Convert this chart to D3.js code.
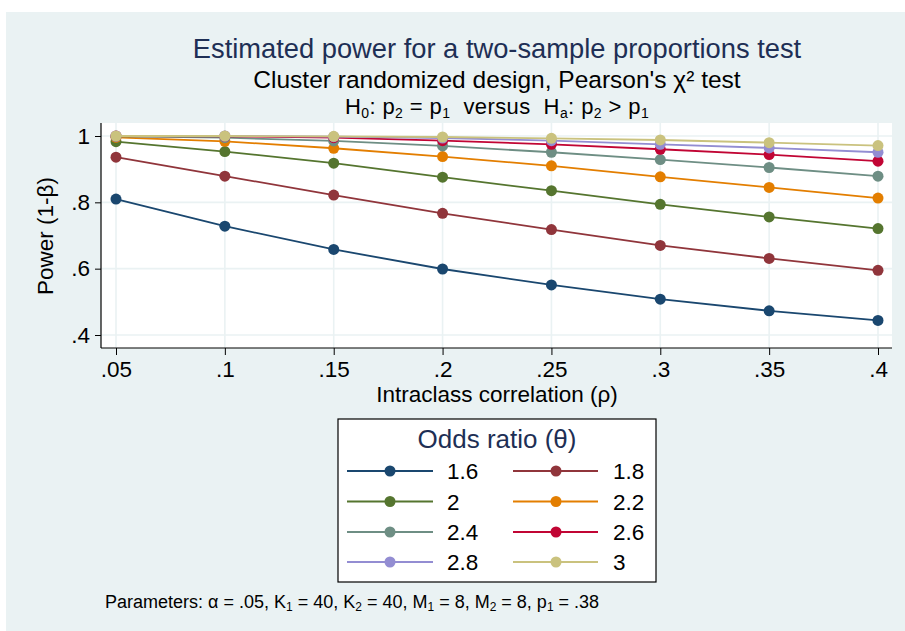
<!DOCTYPE html>
<html>
<head>
<meta charset="utf-8">
<script src="https://cdn.jsdelivr.net/npm/d3@7"></script>
<style>
  html, body { margin: 0; padding: 0; background: #ffffff; }
  svg { display: block; font-family: Arial, "Liberation Sans", Helvetica, sans-serif; }
</style>
</head>
<body>
<svg id="chart" width="905" height="631"></svg>
<script>
// ---------------- data ----------------
const rho = [0.05, 0.10, 0.15, 0.20, 0.25, 0.30, 0.35, 0.40];
const xTickLabels = [".05", ".1", ".15", ".2", ".25", ".3", ".35", ".4"];
const yTicks = [0.4, 0.6, 0.8, 1.0];
const yTickLabels = [".4", ".6", ".8", "1"];
const oddsRatios = ["1.6", "1.8", "2", "2.2", "2.4", "2.6", "2.8", "3"];
const power16 = [0.810, 0.728, 0.658, 0.599, 0.551, 0.508, 0.473, 0.444];
const power18 = [0.936, 0.879, 0.822, 0.767, 0.718, 0.670, 0.631, 0.595];
const power20 = [0.983, 0.953, 0.918, 0.876, 0.835, 0.794, 0.756, 0.721];
const power22 = [0.996, 0.984, 0.963, 0.938, 0.910, 0.877, 0.845, 0.813];
const power24 = [0.999, 0.995, 0.985, 0.970, 0.951, 0.929, 0.905, 0.879];
const power26 = [1.000, 0.999, 0.995, 0.986, 0.975, 0.960, 0.944, 0.924];
const power28 = [1.000, 1.000, 0.998, 0.994, 0.986, 0.975, 0.964, 0.951];
const power30 = [1.000, 1.000, 0.999, 0.997, 0.993, 0.988, 0.980, 0.971];
const seriesColors = ["#1a476f", "#90353b", "#55752f", "#e37e00", "#6e8e84", "#c10534", "#938dd2", "#cac27e"];

const allPower = [power16, power18, power20, power22, power24, power26, power28, power30];
const series = oddsRatios.map((or, i) => ({
  name: or,
  color: seriesColors[i],
  values: rho.map((r, j) => ({ x: r, y: allPower[i][j] }))
}));

// ---------------- layout ----------------
const svg = d3.select("#chart");
const bgColor = "#eaf2f3";
const titleColor = "#1e2f55";

svg.append("rect").attr("x", 6).attr("y", 12).attr("width", 899).attr("height", 619).attr("fill", bgColor);

const plot = { left: 101, right: 892, top: 123, bottom: 348 };
const x = d3.scaleLinear().domain([0.05, 0.40]).range([116, 878]);
const y = d3.scaleLinear().domain([0.4, 1.0]).range([335, 136]);

// plot region
svg.append("rect")
  .attr("x", plot.left).attr("y", plot.top)
  .attr("width", plot.right - plot.left).attr("height", plot.bottom - plot.top)
  .attr("fill", "#ffffff");

// grid lines
const grid = svg.append("g");
grid.selectAll("line.h").data(yTicks).join("line")
  .attr("x1", plot.left).attr("x2", plot.right)
  .attr("y1", d => y(d)).attr("y2", d => y(d))
  .attr("stroke", bgColor).attr("stroke-width", 1.6);
grid.selectAll("line.v").data(rho).join("line")
  .attr("y1", plot.top).attr("y2", plot.bottom)
  .attr("x1", d => x(d)).attr("x2", d => x(d))
  .attr("stroke", bgColor).attr("stroke-width", 1.6);

// axes
const fontTick = 22.5;
const yAxis = d3.axisLeft(y).tickValues(yTicks).tickFormat((d, i) => yTickLabels[i]).tickSize(6).tickPadding(5);
const gy = svg.append("g").attr("transform", `translate(${plot.left},0)`).call(yAxis);
gy.select(".domain").remove();
gy.selectAll("text").attr("font-size", fontTick).attr("fill", "#000").attr("font-family", null);
gy.selectAll("line").attr("stroke", "#000");
svg.append("line").attr("x1", plot.left).attr("x2", plot.left).attr("y1", plot.top).attr("y2", plot.bottom).attr("stroke", "#000").attr("stroke-width", 1.2);

const xAxis = d3.axisBottom(x).tickValues(rho).tickFormat((d, i) => xTickLabels[i]).tickSize(7).tickPadding(6);
const gx = svg.append("g").attr("transform", `translate(0,${plot.bottom})`).call(xAxis);
gx.select(".domain").remove();
gx.selectAll("text").attr("font-size", fontTick).attr("fill", "#000").attr("font-family", null);
gx.selectAll("line").attr("stroke", "#000");
svg.append("line").attr("x1", plot.left).attr("x2", plot.right).attr("y1", plot.bottom).attr("y2", plot.bottom).attr("stroke", "#000").attr("stroke-width", 1.2);

// axis titles
svg.append("text")
  .attr("transform", "translate(53,236) rotate(-90)")
  .attr("text-anchor", "middle").attr("font-size", 22.5).attr("fill", "#000")
  .text("Power (1-β)");
svg.append("text")
  .attr("x", 497).attr("y", 402)
  .attr("text-anchor", "middle").attr("font-size", 22.5).attr("fill", "#000")
  .text("Intraclass correlation (ρ)");

// series
const line = d3.line().x(d => x(d.x)).y(d => y(d.y));
const gs = svg.append("g");
series.forEach(s => {
  gs.append("path").datum(s.values)
    .attr("d", line).attr("fill", "none")
    .attr("stroke", s.color).attr("stroke-width", 1.8);
  gs.selectAll(null).data(s.values).join("circle")
    .attr("cx", d => x(d.x)).attr("cy", d => y(d.y)).attr("r", 5.5)
    .attr("fill", s.color);
});

// titles
svg.append("text").attr("x", 497).attr("y", 58).attr("text-anchor", "middle")
  .attr("font-size", 27.3).attr("fill", titleColor)
  .text("Estimated power for a two-sample proportions test");
svg.append("text").attr("x", 497).attr("y", 88).attr("text-anchor", "middle")
  .attr("font-size", 24.5).attr("fill", "#000")
  .text("Cluster randomized design, Pearson's χ² test");

// text with subscripts: dy on each base tspan undoes the previous subscript shift
function subscriptText(sel, parts, tail, subSize, shift) {
  parts.forEach(([base, sub], i) => {
    sel.append("tspan").attr("dy", i === 0 ? 0 : -shift).text(base);
    sel.append("tspan").attr("font-size", subSize).attr("dy", shift).text(sub);
  });
  sel.append("tspan").attr("dy", -shift).text(tail);
}

const sub2 = svg.append("text").attr("x", 497).attr("y", 114).attr("text-anchor", "middle")
  .attr("font-size", 22).attr("letter-spacing", 0.4).attr("fill", "#000").style("white-space", "pre");
subscriptText(sub2, [["H", "0"], [": p", "2"], [" = p", "1"], ["  versus  H", "a"], [": p", "2"], [" > p", "1"]], "", 14, 4);

// legend
const lg = svg.append("g");
lg.append("rect").attr("x", 338).attr("y", 419).attr("width", 318).attr("height", 163)
  .attr("fill", "#ffffff").attr("stroke", "#000").attr("stroke-width", 1.2);
lg.append("text").attr("x", 497).attr("y", 448).attr("text-anchor", "middle")
  .attr("font-size", 26).attr("fill", titleColor).text("Odds ratio (θ)");
const rowY = [471, 501.5, 532, 562];
const colX = [{ l0: 347, l1: 433, m: 390, t: 447 }, { l0: 513, l1: 598, m: 556, t: 613 }];
series.forEach((s, i) => {
  const c = colX[i % 2], ry = rowY[Math.floor(i / 2)];
  lg.append("line").attr("x1", c.l0).attr("x2", c.l1).attr("y1", ry).attr("y2", ry)
    .attr("stroke", s.color).attr("stroke-width", 1.8);
  lg.append("circle").attr("cx", c.m).attr("cy", ry).attr("r", 5.5).attr("fill", s.color);
  lg.append("text").attr("x", c.t).attr("y", ry).attr("dy", "0.36em")
    .attr("font-size", 22.5).attr("fill", "#000").text(s.name);
});

// note
const note = svg.append("text").attr("x", 105).attr("y", 608).attr("font-size", 18).attr("fill", "#000").style("white-space", "pre");
subscriptText(note, [["Parameters: α = .05, K", "1"], [" = 40, K", "2"], [" = 40, M", "1"], [" = 8, M", "2"], [" = 8, p", "1"]], " = .38", 12, 3);
</script>
</body>
</html>
